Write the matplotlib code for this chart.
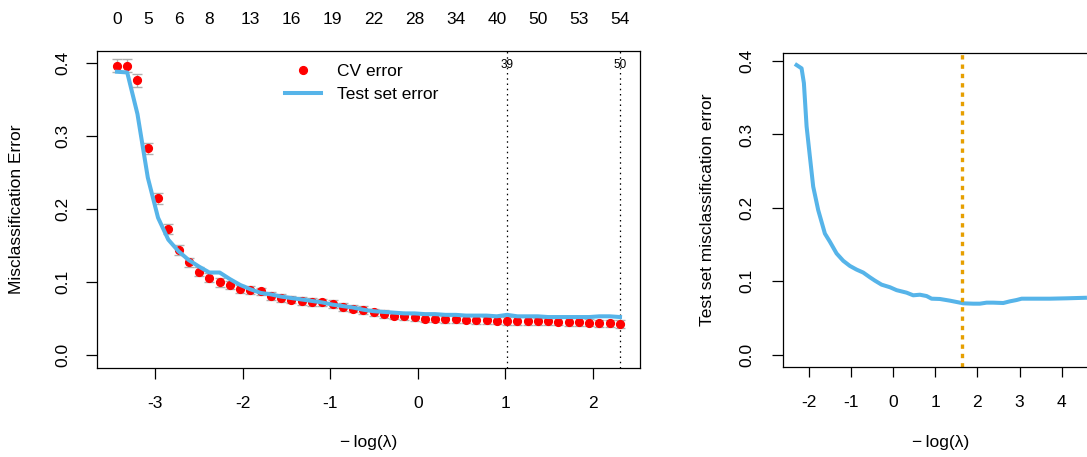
import matplotlib
matplotlib.use("Agg")
import matplotlib.pyplot as plt

plt.rcParams['font.family'] = ['Liberation Sans', 'DejaVu Sans']

# ---------------- data: left panel (cv.glmnet style) ----------------
log_lambda = [-3.434, -3.317, -3.200, -3.082, -2.965, -2.848, -2.731, -2.614, -2.496, -2.379,
              -2.262, -2.145, -2.028, -1.910, -1.793, -1.676, -1.559, -1.442, -1.324, -1.207,
              -1.090, -0.973, -0.856, -0.738, -0.621, -0.504, -0.387, -0.270, -0.152, -0.035,
              0.082, 0.199, 0.316, 0.434, 0.551, 0.668, 0.785, 0.902, 1.020, 1.137,
              1.254, 1.371, 1.488, 1.606, 1.723, 1.840, 1.957, 2.074, 2.192, 2.309]
cv_error = [0.396, 0.396, 0.376, 0.283, 0.215, 0.173, 0.144, 0.127, 0.114, 0.106,
            0.0995, 0.096, 0.091, 0.089, 0.087, 0.081, 0.078, 0.076, 0.074, 0.073,
            0.072, 0.070, 0.066, 0.0635, 0.0615, 0.0585, 0.056, 0.054, 0.053, 0.0515,
            0.050, 0.050, 0.049, 0.049, 0.0485, 0.048, 0.0475, 0.047, 0.0466, 0.0466,
            0.0466, 0.046, 0.046, 0.0457, 0.0452, 0.0452, 0.0443, 0.0434, 0.0434, 0.0425]
cv_se = [0.0088, 0.0088, 0.0085, 0.0080, 0.0075, 0.0070, 0.0066, 0.0062, 0.0060, 0.0058,
         0.0057, 0.0056, 0.0055, 0.0055, 0.0054, 0.0054, 0.0053, 0.0053, 0.0053, 0.0052,
         0.0052, 0.0052, 0.0051, 0.0051, 0.0051, 0.0050, 0.0050, 0.0050, 0.0050, 0.0050,
         0.0050, 0.0050, 0.0050, 0.0050, 0.0050, 0.0050, 0.0050, 0.0050, 0.0050, 0.0050,
         0.0050, 0.0050, 0.0050, 0.0050, 0.0050, 0.0050, 0.0050, 0.0050, 0.0050, 0.0050]
test_error = [0.388, 0.387, 0.330, 0.243, 0.188, 0.158, 0.142, 0.130, 0.121, 0.113,
              0.113, 0.104, 0.096, 0.090, 0.085, 0.083, 0.080, 0.078, 0.076, 0.074,
              0.072, 0.069, 0.067, 0.065, 0.062, 0.060, 0.059, 0.058, 0.057, 0.057,
              0.056, 0.056, 0.055, 0.055, 0.054, 0.054, 0.054, 0.053, 0.055, 0.053,
              0.053, 0.053, 0.052, 0.052, 0.052, 0.052, 0.052, 0.053, 0.053, 0.052]
nz_index = [0, 3, 6, 9, 13, 17, 21, 25, 29, 33, 37, 41, 45, 49]
nz_labels = ['0', '5', '6', '8', '13', '16', '19', '22', '28', '34', '40', '50', '53', '54']
sel_index = [38, 49]
sel_labels = ['39', '50']

# ---------------- data: right panel ----------------
path_x = [-2.335, -2.176, -2.121, -2.057, -1.979, -1.900, -1.781, -1.622, -1.504, -1.345,
          -1.187, -1.029, -0.870, -0.713, -0.553, -0.435, -0.276, -0.078, 0.081, 0.318,
          0.475, 0.634, 0.793, 0.912, 1.109, 1.347, 1.506, 1.663, 1.900, 2.059,
          2.218, 2.375, 2.613, 2.772, 2.931, 3.050, 3.325, 3.722, 4.118, 4.601]
path_err = [0.396, 0.390, 0.370, 0.311, 0.270, 0.229, 0.197, 0.165, 0.154, 0.138,
            0.128, 0.121, 0.116, 0.112, 0.1055, 0.101, 0.0955, 0.092, 0.088, 0.0846,
            0.081, 0.0818, 0.080, 0.0764, 0.076, 0.0737, 0.0719, 0.0701, 0.0696, 0.0696,
            0.071, 0.071, 0.0705, 0.0728, 0.0746, 0.0764, 0.0764, 0.0764, 0.0769, 0.0777]
best_x = 1.63

W, H = 1087, 457
fig = plt.figure(figsize=(W / 100, H / 100), dpi=100)

BLUE = '#56B4E9'
FS = 12.5
XLAB = '\u2212\u2009log(\u03bb)'

# ---------------- left panel ----------------
ax1 = fig.add_axes([97 / W, 1 - 368 / H, 543 / W, 317 / H])
ax1.errorbar(log_lambda, cv_error, yerr=cv_se, fmt='none', ecolor='#B0B0B0',
             elinewidth=1.0, capsize=3.8, capthick=1.0, zorder=2)
ax1.plot(log_lambda, cv_error, 'o', color='red', markersize=5.6, zorder=3,
         label='CV error', linestyle='none')
ax1.plot(log_lambda, test_error, color=BLUE, lw=2.9, zorder=4, label='Test set error')
for i, lab in zip(sel_index, sel_labels):
    ax1.axvline(log_lambda[i], color='black', lw=0.9, linestyle=(0, (1.2, 3.0)), zorder=1)
    ax1.text(log_lambda[i], (368 - 65) / 317, lab, transform=ax1.get_xaxis_transform(),
             ha='center', va='center', fontsize=8.5)
for i, lab in zip(nz_index, nz_labels):
    ax1.text(log_lambda[i], (368 - 19) / 317, lab, transform=ax1.get_xaxis_transform(),
             ha='center', va='center', fontsize=FS)
ax1.set_xlim(-3.662, 2.537)
ax1.set_ylim(-0.0178, 0.4164)
ax1.set_xticks([-3, -2, -1, 0, 1, 2])
ax1.set_xticklabels(['-3', '-2', '-1', '0', '1', '2'])
ax1.set_yticks([0.0, 0.1, 0.2, 0.3, 0.4])
ax1.set_yticklabels(['0.0', '0.1', '0.2', '0.3', '0.4'], rotation=90, va='center')
ax1.tick_params(axis='x', length=8, width=0.9, pad=12, labelsize=FS)
ax1.tick_params(axis='y', length=8, width=0.9, pad=11, labelsize=FS)
for s in ax1.spines.values():
    s.set_linewidth(0.9)
leg = ax1.legend(loc='upper left', bbox_to_anchor=((285 - 97) / 543, 0.958), frameon=False,
                 fontsize=FS, handlelength=2.1, handletextpad=0.9, borderpad=0,
                 borderaxespad=0, labelspacing=0.45, numpoints=1)
fig.text(17 / W, 1 - 209.5 / H, 'Misclassification Error', rotation=90,
         ha='center', va='center', fontsize=FS)
fig.text((97 + 640) / 2 / W, 1 - 443 / H, XLAB, ha='center', va='center', fontsize=FS)

# ---------------- right panel ----------------
ax2 = fig.add_axes([783.3 / W, 1 - 366.7 / H, 315.4 / W, 314 / H])
ax2.plot(path_x, path_err, color=BLUE, lw=2.9, solid_capstyle='butt')
ax2.axvline(best_x, color='#E69F00', lw=2.4, linestyle=(0, (1.3, 1.5)))
ax2.set_xlim(-2.61, 4.88)
ax2.set_ylim(-0.0162, 0.4113)
ax2.set_xticks([-2, -1, 0, 1, 2, 3, 4])
ax2.set_xticklabels(['-2', '-1', '0', '1', '2', '3', '4'])
ax2.set_yticks([0.0, 0.1, 0.2, 0.3, 0.4])
ax2.set_yticklabels(['0.0', '0.1', '0.2', '0.3', '0.4'], rotation=90, va='center')
ax2.tick_params(axis='x', length=7.5, width=0.9, pad=13, labelsize=FS)
ax2.tick_params(axis='y', length=8, width=0.9, pad=13, labelsize=FS)
for s in ax2.spines.values():
    s.set_linewidth(0.9)
fig.text(707.5 / W, 1 - 209.5 / H, 'Test set misclassification error', rotation=90,
         ha='center', va='center', fontsize=FS)
fig.text(941 / W, 1 - 443 / H, XLAB, ha='center', va='center', fontsize=FS)

fig.savefig('out.png', dpi=100)
